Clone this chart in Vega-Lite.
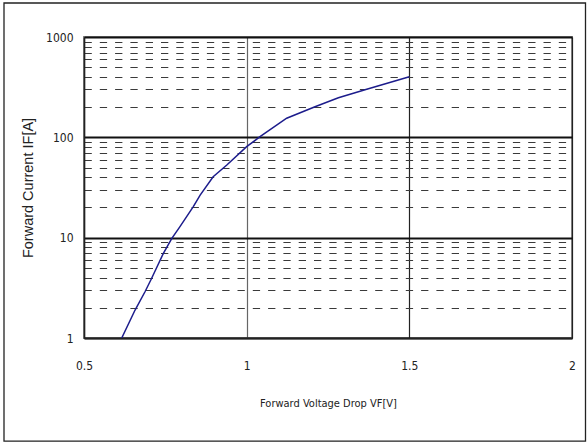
{
  "$schema": "https://vega.github.io/schema/vega-lite/v6.json",
  "width": 488,
  "height": 301,
  "autosize": {"type": "none"},
  "padding": {"left": 84, "top": 37, "right": 15, "bottom": 108},
  "background": "white",
  "config": {
    "view": {"stroke": "#888888", "strokeWidth": 2},
    "font": "'DejaVu Sans Condensed', 'Liberation Sans', sans-serif"
  },
  "layer": [
    {
      "data": {"values": [{"frame": 1}]},
      "mark": {"type": "rect", "fill": null, "stroke": "#222222", "strokeWidth": 1.3, "clip": false},
      "encoding": {
        "x": {"datum": 0.2541, "type": "quantitative", "scale": {"domain": [0.5, 2], "nice": false, "zero": false}},
        "x2": {"datum": 2.0415},
        "y": {"datum": 2183, "type": "quantitative", "scale": {"type": "log", "domain": [1, 1000], "nice": false}},
        "y2": {"datum": 0.094}
      }
    },
    {
      "data": {
        "values": [
          {"VF": 0.616, "IF": 1.0},
          {"VF": 0.657, "IF": 1.9},
          {"VF": 0.6875, "IF": 2.89},
          {"VF": 0.708, "IF": 3.94},
          {"VF": 0.744, "IF": 6.98},
          {"VF": 0.770, "IF": 9.86},
          {"VF": 0.795, "IF": 12.9},
          {"VF": 0.836, "IF": 20.4},
          {"VF": 0.857, "IF": 26.6},
          {"VF": 0.897, "IF": 40.5},
          {"VF": 0.939, "IF": 53.0},
          {"VF": 1.000, "IF": 80.7},
          {"VF": 1.041, "IF": 101.4},
          {"VF": 1.123, "IF": 155},
          {"VF": 1.210, "IF": 202},
          {"VF": 1.282, "IF": 248},
          {"VF": 1.369, "IF": 301},
          {"VF": 1.500, "IF": 402}
        ]
      },
      "mark": {"type": "line", "color": "#1c1c8c", "strokeWidth": 1.5, "clip": true},
      "encoding": {
        "x": {
          "field": "VF",
          "type": "quantitative",
          "scale": {"domain": [0.5, 2], "nice": false, "zero": false},
          "axis": {
            "values": [0.5, 1, 1.5, 2],
            "labelExpr": "'' + datum.value",
            "title": "Forward Voltage Drop VF[V]",
            "grid": true,
            "gridColor": {"condition": {"test": "datum.value == 1", "value": "#666666"}, "value": "#222222"},
            "gridWidth": 1.2,
            "ticks": false,
            "domainColor": "#222222",
            "domainWidth": 1.5,
            "labelFontSize": 12,
            "labelColor": "#222222",
            "labelPadding": 22,
            "labelFlush": false,
            "labelOverlap": false,
            "titleFontSize": 11,
            "titleFontWeight": "normal",
            "titleColor": "#222222",
            "titlePadding": 26
          }
        },
        "y": {
          "field": "IF",
          "type": "quantitative",
          "scale": {"type": "log", "domain": [1, 1000], "nice": false},
          "axis": {
            "values": [1, 2, 3, 4, 5, 6, 7, 8, 9, 10, 20, 30, 40, 50, 60, 70, 80, 90, 100, 200, 300, 400, 500, 600, 700, 800, 900, 1000],
            "labelExpr": "indexof([1, 10, 100, 1000], datum.value) >= 0 ? '' + datum.value : ''",
            "title": "Forward Current IF[A]",
            "grid": true,
            "gridDash": {"condition": {"test": "indexof([1, 10, 100, 1000], datum.value) < 0", "value": [7.3, 8]}, "value": []},
            "gridWidth": {"condition": {"test": "indexof([1, 10, 100, 1000], datum.value) < 0", "value": 1}, "value": 1.8},
            "gridColor": {"condition": {"test": "indexof([1, 10, 100, 1000], datum.value) < 0", "value": "#3a3a3a"}, "value": "#111111"},
            "gridOpacity": 1,
            "ticks": false,
            "domainColor": "#222222",
            "domainWidth": 1.5,
            "labelFontSize": 12,
            "labelColor": "#222222",
            "labelPadding": 11,
            "labelOverlap": false,
            "titleFont": "Liberation Sans",
            "titleFontSize": 14.5,
            "titleFontWeight": "normal",
            "titleColor": "#222222",
            "titlePadding": 10
          }
        }
      }
    }
  ]
}
